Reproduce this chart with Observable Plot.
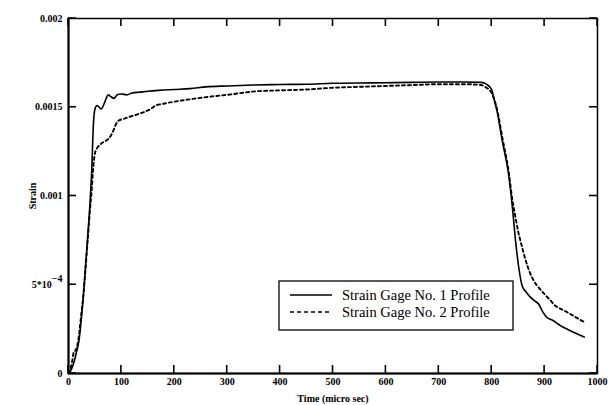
<!DOCTYPE html>
<html><head><meta charset="utf-8">
<script src="https://cdn.jsdelivr.net/npm/d3@7"></script>
<script src="https://cdn.jsdelivr.net/npm/@observablehq/plot@0.6"></script>
<style>body{margin:0;background:#fff}</style>
</head><body><div id="chart"></div>
<script>
// Strain Gage No. 1 (solid)
const time1 = [0,5,10,15,20,24,28,32,36,40,44,47,50,54,58,62,66,70,75,80,86,92,100,110,120,135,150,170,200,230,260,300,350,400,450,500,550,600,650,700,750,780,790,800,804,810,820,832,839,845,851,858,865,873,881,889,896,903,915,930,946,960,975];
const strain1 = [0,0.00002,0.00006,0.00012,0.00019,0.0003,0.00043,0.0006,0.00076,0.00093,0.00115,0.0014,0.00149,0.00151,0.0015,0.00149,0.00151,0.00154,0.00157,0.00156,0.00155,0.00157,0.001575,0.00157,0.00158,0.001585,0.00159,0.001595,0.0016,0.001605,0.001615,0.00162,0.001625,0.001628,0.00163,0.001635,0.001637,0.001638,0.00164,0.001642,0.001642,0.00164,0.00163,0.0016,0.00155,0.00148,0.00131,0.00112,0.00094,0.00075,0.0006,0.00049,0.00046,0.00043,0.00041,0.00039,0.00035,0.00032,0.0003,0.00027,0.000245,0.000225,0.000205];
// Strain Gage No. 2 (dashed)
const time2 = [0,4,7,10,13,16,20,24,28,32,36,40,44,47,50,54,58,64,70,75,80,85,89,95,105,114,125,140,155,165,180,197,230,260,300,355,400,450,500,550,600,650,700,750,780,790,800,810,820,832,839,845,850,855,864,872,880,890,899,910,921,933,946,960,975];
const strain2 = [0,0.00003,0.00007,0.00012,0.00013,0.00015,0.00022,0.00033,0.00044,0.00058,0.00074,0.0009,0.00104,0.00117,0.00124,0.00127,0.001285,0.0013,0.00131,0.00132,0.00134,0.00137,0.0014,0.001425,0.001435,0.001445,0.001455,0.00147,0.00149,0.00151,0.00152,0.00153,0.001545,0.001557,0.00157,0.00159,0.001595,0.0016,0.00161,0.001615,0.00162,0.001625,0.00163,0.00163,0.001625,0.00161,0.00158,0.00149,0.00133,0.00114,0.00098,0.00088,0.0008,0.00074,0.00064,0.00057,0.00052,0.00048,0.00045,0.000415,0.00038,0.00036,0.00034,0.000315,0.00029];
const seriesNames = ["Strain Gage No. 1 Profile", "Strain Gage No. 2 Profile"];
const xTicks = [0,100,200,300,400,500,600,700,800,900,1000];
const xTickLabels = ["0","100","200","300","400","500","600","700","800","900","1000"];
const yTicks = [0,0.0005,0.001,0.0015,0.002];
const yTickLabels = ["0","5*10^-4","0.001","0.0015","0.002"];
const xLabel = "Time (micro sec)";
const yLabel = "Strain";

const data1 = time1.map((t, i) => ({t, s: strain1[i]}));
const data2 = time2.map((t, i) => ({t, s: strain2[i]}));

const W = 608, H = 405, mL = 68, mR = 11, mT = 18, mB = 32, TK = 8;

const fig = Plot.plot({
  width: W, height: H,
  marginLeft: mL, marginRight: mR, marginTop: mT, marginBottom: mB,
  style: {fontFamily: "'Liberation Serif', 'Times New Roman', serif", fontSize: "10px", fontWeight: "bold", background: "#fff", color: "#000"},
  x: {domain: [0, 1000]},
  y: {domain: [0, 0.002]},
  marks: [
    Plot.frame({stroke: "#000", strokeWidth: 1.5}),
    Plot.ruleX([0], {stroke: "#000", strokeWidth: 2}),
    Plot.ruleY([0], {stroke: "#000", strokeWidth: 2}),
    Plot.axisX(xTicks, {tickSize: 0, tickPadding: 4, tickFormat: d => xTickLabels[xTicks.indexOf(d)],
      label: xLabel, labelAnchor: "center", labelOffset: 28, labelArrow: "none"}),
    Plot.axisY(yTicks, {tickSize: 0, tickPadding: 6, tickFormat: d => yTickLabels[yTicks.indexOf(d)],
      label: yLabel, labelAnchor: "center", labelOffset: 40, labelArrow: "none"}),
    Plot.line(data1, {x: "t", y: "s", stroke: "#000", strokeWidth: 1.6, curve: "monotone-x"}),
    Plot.line(data2, {x: "t", y: "s", stroke: "#000", strokeWidth: 1.9, strokeDasharray: "3,3", curve: "monotone-x"})
  ]
});
document.getElementById("chart").append(fig);

const svg = d3.select(fig.tagName.toLowerCase() === "svg" ? fig : fig.querySelector("svg"));
// inward ticks on all four sides, placed through Plot's own scales
const sx = fig.scale("x"), sy = fig.scale("y");
const x0 = sx.apply(0), x1 = sx.apply(1000), y0 = sy.apply(0), y1 = sy.apply(0.002);
const tg = svg.append("g").attr("stroke", "#000").attr("stroke-width", 1.6);
xTicks.forEach(v => {
  const px = sx.apply(v);
  tg.append("line").attr("x1", px).attr("x2", px).attr("y1", y0).attr("y2", y0 - TK);
  tg.append("line").attr("x1", px).attr("x2", px).attr("y1", y1).attr("y2", y1 + TK);
});
yTicks.forEach(v => {
  const py = sy.apply(v);
  tg.append("line").attr("y1", py).attr("y2", py).attr("x1", x0).attr("x2", x0 + TK);
  tg.append("line").attr("y1", py).attr("y2", py).attr("x1", x1).attr("x2", x1 - TK);
});
svg.selectAll("text").each(function() {
  if (this.textContent === "5*10^-4") {
    const el = d3.select(this);
    el.text("");
    el.append("tspan").text("5*10");
    el.append("tspan").attr("dy", "-0.55em").text("\u22124");
  }
});
const lg = svg.append("g").attr("font-family", "'Liberation Serif', 'Times New Roman', serif").attr("font-size", "14.5px").attr("text-anchor", "start");
lg.append("rect").attr("x", 279).attr("y", 281).attr("width", 234).attr("height", 49)
  .attr("fill", "#fff").attr("stroke", "#000").attr("stroke-width", 1.3);
const dashes = [null, "4,3"];
seriesNames.forEach((name, i) => {
  const cy = 295 + i * 17;
  lg.append("line").attr("x1", 290).attr("x2", 332).attr("y1", cy).attr("y2", cy)
    .attr("stroke", "#000").attr("stroke-width", 1.4).attr("stroke-dasharray", dashes[i]);
  lg.append("text").attr("x", 342).attr("y", cy).attr("dy", "0.35em").attr("font-weight", "normal").attr("text-anchor", "start").text(name);
});
</script>
</body></html>
